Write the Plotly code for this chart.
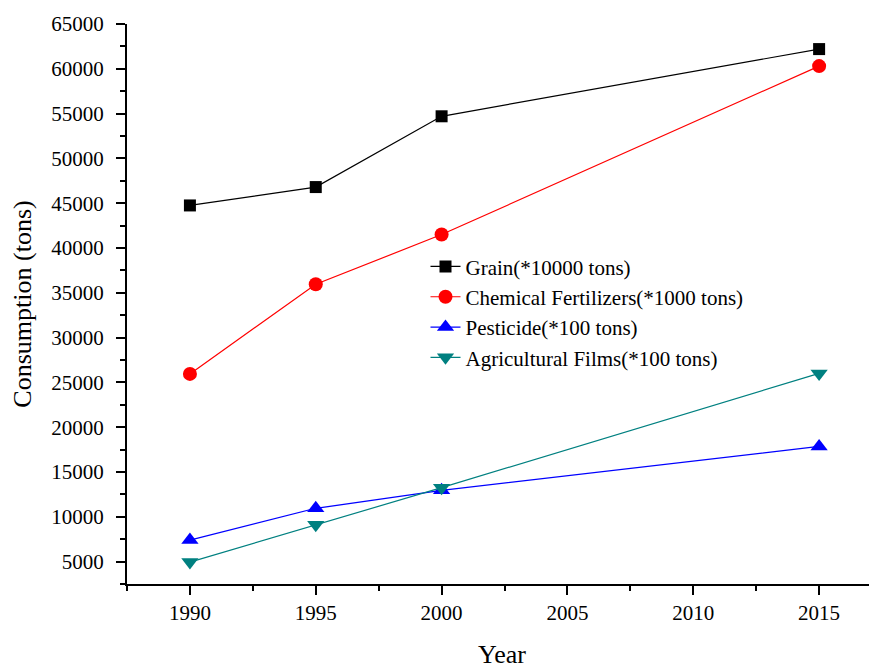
import plotly.graph_objects as go

years = [1990, 1995, 2000, 2015]
grain = [44750, 46800, 54700, 62200]
fertilizers = [25950, 35950, 41500, 60300]
pesticide = [7400, 10950, 12950, 17850]
films = [4950, 9100, 13250, 26000]

series_names = ["Grain(*10000 tons)", "Chemical Fertilizers(*1000 tons)",
                "Pesticide(*100 tons)", "Agricultural Films(*100 tons)"]

y_ticks = list(range(5000, 65001, 5000))
x_ticks = [1990, 1995, 2000, 2005, 2010, 2015]

fig = go.Figure()
fig.add_trace(go.Scatter(x=years, y=grain, name=series_names[0], mode="lines+markers",
                         line=dict(color="black", width=1.2),
                         marker=dict(symbol="square", size=12, color="black")))
fig.add_trace(go.Scatter(x=years, y=fertilizers, name=series_names[1], mode="lines+markers",
                         line=dict(color="#FF0000", width=1.2),
                         marker=dict(symbol="circle", size=14, color="#FF0000")))
fig.add_trace(go.Scatter(x=years, y=pesticide, name=series_names[2], mode="lines+markers",
                         line=dict(color="#0000FF", width=1.2),
                         marker=dict(symbol="triangle-up", size=15, color="#0000FF")))
fig.add_trace(go.Scatter(x=years, y=films, name=series_names[3], mode="lines+markers",
                         line=dict(color="#008080", width=1.2),
                         marker=dict(symbol="triangle-down", size=15, color="#008080")))

font_family = "Liberation Serif"

fig.update_layout(
    width=869, height=661,
    margin=dict(l=119, r=0, t=16, b=85),
    paper_bgcolor="white", plot_bgcolor="white",
    font=dict(family=font_family, color="black", size=21),
    showlegend=True,
    legend=dict(x=0.398, y=0.603, xanchor="left", yanchor="top",
                bgcolor="rgba(0,0,0,0)", font=dict(size=21, family=font_family, color="black"),
                tracegroupgap=0),
)
fig.update_xaxes(
    range=[1987.5, 2017.3], tickvals=x_ticks, ticktext=[str(v) for v in x_ticks],
    showline=True, linecolor="black", linewidth=2, mirror=False,
    ticks="outside", ticklen=9, tickwidth=2, tickcolor="black",
    minor=dict(tick0=1987.5, dtick=2.5, ticklen=5, tickwidth=2, tickcolor="black", ticks="outside"),
    showgrid=False, zeroline=False, automargin=False,
    tickfont=dict(size=21, family=font_family, color="black"),
    title=dict(text="Year", font=dict(size=26, family=font_family, color="black"), standoff=25),
)
fig.update_yaxes(
    range=[2500, 65000], tickvals=y_ticks, ticktext=[str(v) for v in y_ticks],
    showline=True, linecolor="black", linewidth=2, mirror=False,
    ticks="outside", ticklen=9, tickwidth=2, tickcolor="black",
    minor=dict(tick0=2500, dtick=2500, ticklen=5, tickwidth=2, tickcolor="black", ticks="outside"),
    showgrid=False, zeroline=False, automargin=False,
    tickfont=dict(size=21, family=font_family, color="black"),
    ticklabelstandoff=8,
    title=dict(text="Consumption (tons)", font=dict(size=26, family=font_family, color="black"), standoff=14),
)

fig.write_html("out.html")
